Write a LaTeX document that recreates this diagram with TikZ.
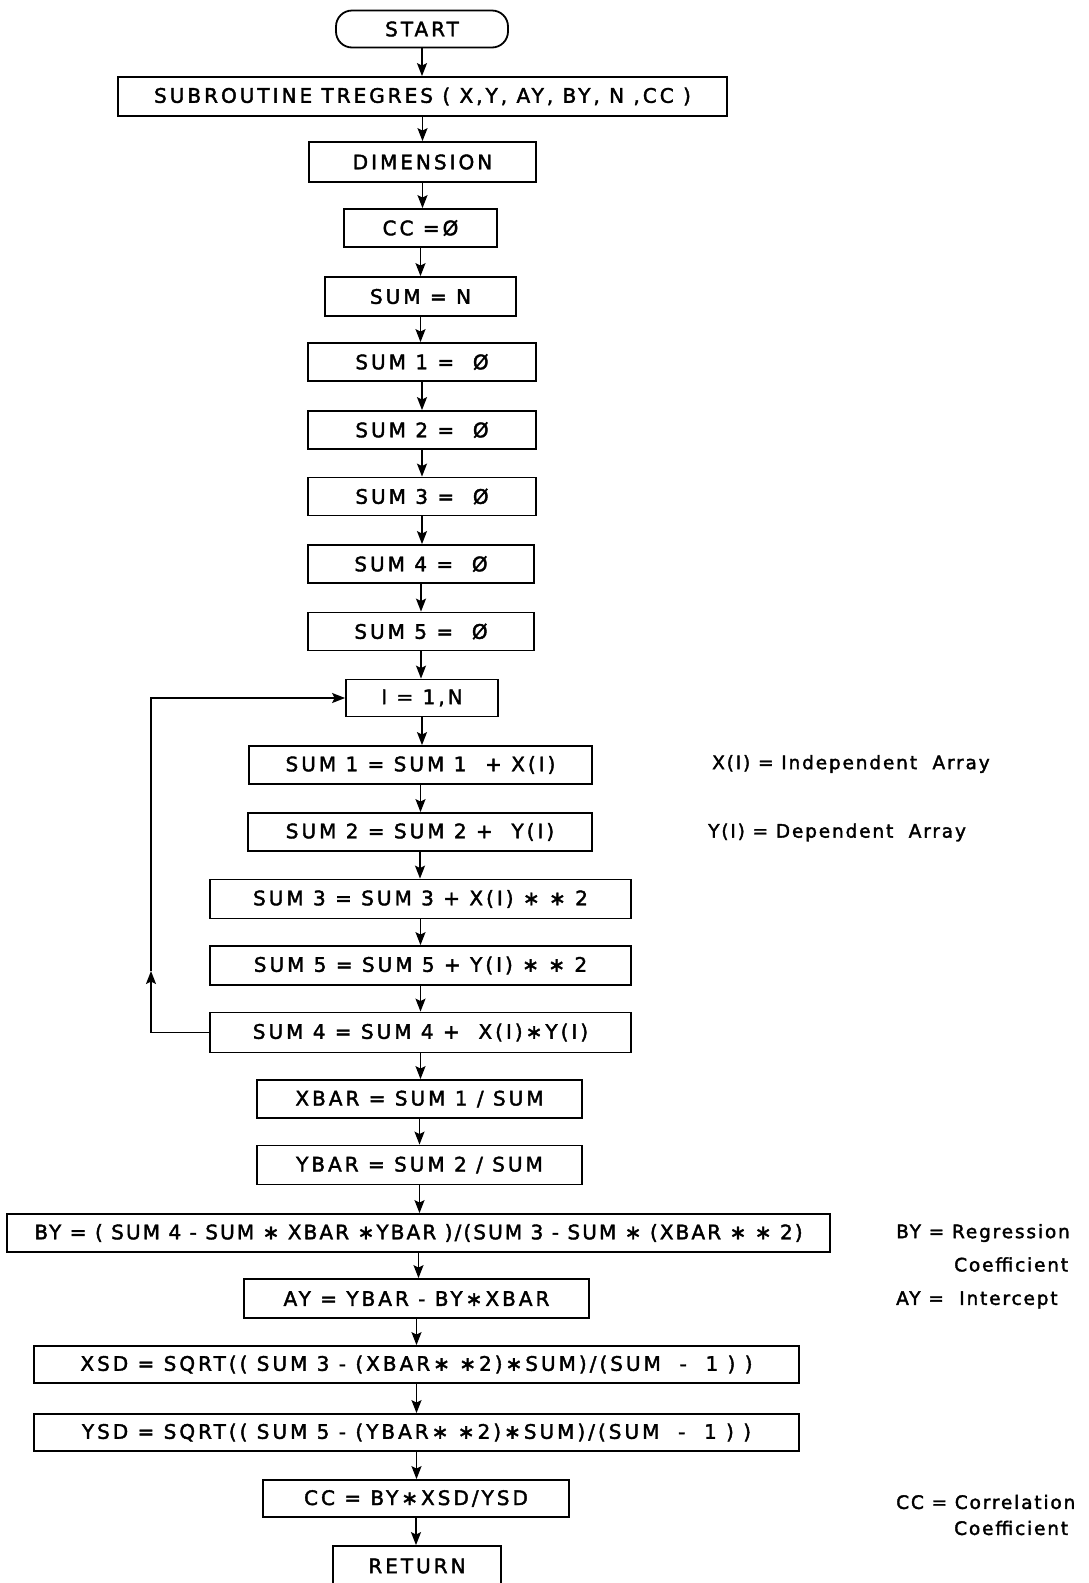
\documentclass[tikz,border=0pt]{standalone}
\usepackage{fontspec}
\setmainfont{DejaVu Sans}
\newfontfamily\boxfont{DejaVu Sans}[LetterSpace=15,FakeBold=2]
\newfontfamily\tightfont{DejaVu Sans}[LetterSpace=10.5,FakeBold=2]
\newfontfamily\notefont{DejaVu Sans}[LetterSpace=10,FakeBold=2]
\usetikzlibrary{arrows.meta}
\tikzset{
  proc/.style={draw, line width=1.8pt, inner sep=0pt, anchor=center,
    font=\boxfont\fontsize{20}{23}\selectfont},
  tight/.style={font=\tightfont\fontsize{20}{23}\selectfont},
  term/.style={proc, rounded corners=16pt},
  conn/.style={line width=1.7pt, -{Stealth[length=13pt,width=10pt,inset=2.5pt]}},
  note/.style={anchor=west, inner sep=0pt, font=\notefont\fontsize{18.5}{21}\selectfont}
}
\begin{document}
\begin{tikzpicture}[x=1pt,y=-1pt]
\useasboundingbox (0,0) rectangle (1089,1583);
\node[term, minimum width=172pt, minimum height=37pt] (start) at (422,29) {START};
\node[proc, minimum width=609pt, minimum height=39pt] (sub) at (422.5,96.5) {SUBROUTINE TREGRES ( X,Y, AY, BY, N ,CC )};
\node[proc, minimum width=227pt, minimum height=40pt] (dim) at (422.5,162) {DIMENSION};
\node[proc, minimum width=153pt, minimum height=38pt] (cc0) at (420.5,228) {CC =Ø};
\node[proc, minimum width=191pt, minimum height=39pt] (sumn) at (420.5,296.5) {SUM = N};
\node[proc, minimum width=228pt, minimum height=38pt] (s1z) at (422,362) {SUM 1 = ~Ø};
\node[proc, minimum width=228pt, minimum height=38pt] (s2z) at (422,430) {SUM 2 = ~Ø};
\node[proc, minimum width=228pt, minimum height=38pt] (s3z) at (422,496.5) {SUM 3 = ~Ø};
\node[proc, minimum width=226pt, minimum height=38pt] (s4z) at (421,564) {SUM 4 = ~Ø};
\node[proc, minimum width=226pt, minimum height=38pt] (s5z) at (421,631.5) {SUM 5 = ~Ø};
\node[proc, minimum width=152pt, minimum height=37pt] (doi) at (422,698) {I = 1,N};
\node[proc, minimum width=343pt, minimum height=38pt] (l1) at (420.5,765) {SUM 1 = SUM 1 ~+ X(I)};
\node[proc, minimum width=344pt, minimum height=38pt] (l2) at (420,832) {SUM 2 = SUM 2 + ~Y(I)};
\node[proc, minimum width=421pt, minimum height=39pt] (l3) at (420.5,899) {SUM 3 = SUM 3 + X(I) ∗ ∗ 2};
\node[proc, minimum width=421pt, minimum height=39pt] (l5) at (420.5,965.5) {SUM 5 = SUM 5 + Y(I) ∗ ∗ 2};
\node[proc, minimum width=421pt, minimum height=40pt] (l4) at (420.5,1032.5) {SUM 4 = SUM 4 + ~X(I)∗Y(I)};
\node[proc, minimum width=325pt, minimum height=38pt] (xbar) at (419.5,1099) {XBAR = SUM 1 / SUM};
\node[proc, minimum width=325pt, minimum height=39pt] (ybar) at (419.5,1165) {YBAR = SUM 2 / SUM};
\node[proc, tight, minimum width=823pt, minimum height=38pt] (by) at (418.5,1233) {BY = ( SUM 4 - SUM ∗ XBAR ∗YBAR )/(SUM 3 - SUM ∗ (XBAR ∗ ∗ 2)};
\node[proc, minimum width=345pt, minimum height=39pt] (ay) at (416.5,1298.5) {AY = YBAR - BY∗XBAR};
\node[proc, minimum width=765pt, minimum height=37pt] (xsd) at (416.5,1364.5) {XSD = SQRT(( SUM 3 - (XBAR∗ ∗2)∗SUM)/(SUM ~- ~1 ) )};
\node[proc, minimum width=765pt, minimum height=37pt] (ysd) at (416.5,1432.5) {YSD = SQRT(( SUM 5 - (YBAR∗ ∗2)∗SUM)/(SUM ~- ~1 ) )};
\node[proc, minimum width=306pt, minimum height=37pt] (ccf) at (416,1498.5) {CC = BY∗XSD/YSD};
\node[proc, minimum width=168pt, minimum height=40pt] (ret) at (417,1566) {RETURN};

\foreach \a/\b in {start/sub, sub/dim, dim/cc0, cc0/sumn, sumn/s1z, s1z/s2z, s2z/s3z, s3z/s4z, s4z/s5z, s5z/doi, doi/l1, l1/l2, l2/l3, l3/l5, l5/l4, l4/xbar, xbar/ybar, ybar/by, by/ay, ay/xsd, xsd/ysd, ysd/ccf, ccf/ret}
  \draw[conn] (\a.south) -- (\a.south |- \b.north);

\coordinate (lpa) at (151,1032.5);
\coordinate (lpb) at (151,971);
\coordinate (lpc) at (151,698);
\draw[conn] (l4.west) -- (lpa) -- (lpb);
\draw[conn] (lpb) -- (lpc) -- (doi.west);

\node[note] (n1) at (712,764) {X(I) = Independent ~Array};
\node[note] (n2) at (708,832.5) {Y(I) = Dependent ~Array};
\node[note] (n3) at (896,1233) {BY = Regression};
\node[note] (n4) at (954,1264.5) {Coefficient};
\node[note] (n5) at (896,1300) {AY = ~Intercept};
\node[note] (n6) at (896,1502) {CC = Correlation};
\node[note] (n7) at (954,1528) {Coefficient};
\end{tikzpicture}
\end{document}
